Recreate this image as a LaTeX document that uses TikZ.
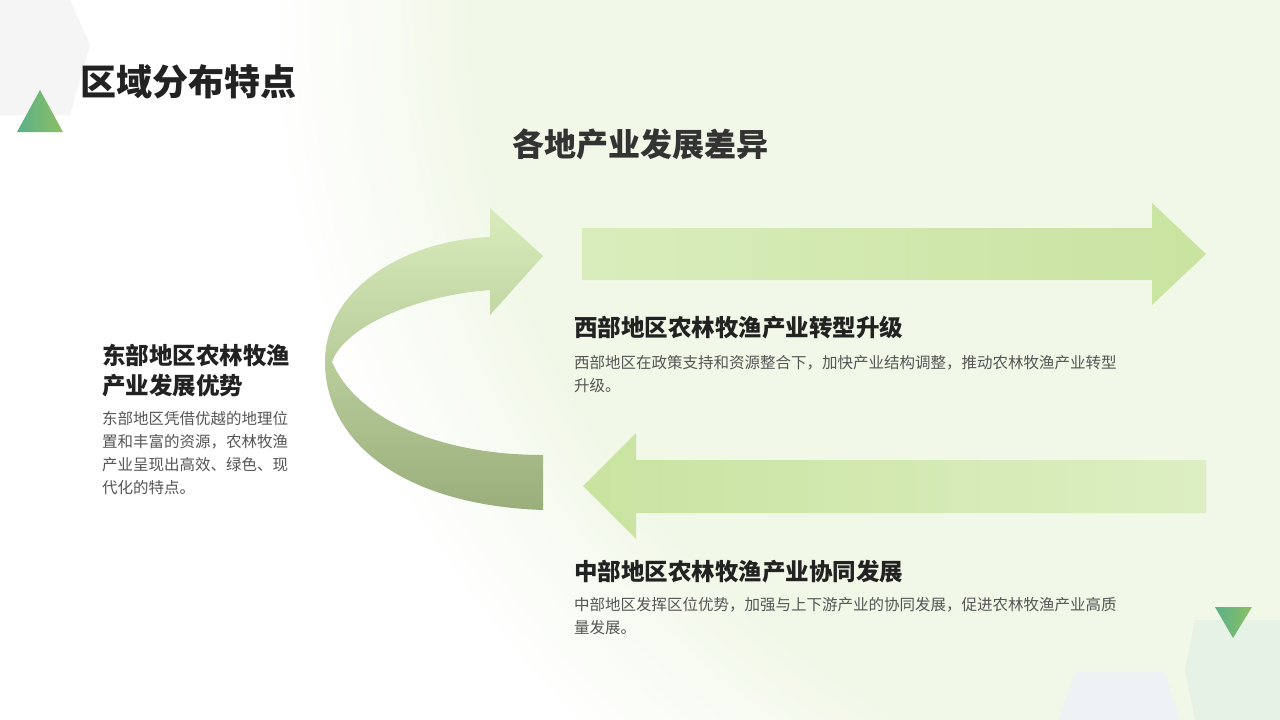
\documentclass[tikz,border=0pt]{standalone}
\usepackage{fontspec}
\setmainfont{Noto Sans CJK SC}
\usetikzlibrary{shapes.geometric,fadings}
\definecolor{gA}{HTML}{D9EDBC}
\definecolor{gB}{HTML}{C9E3A0}
\definecolor{dk}{HTML}{9AAE7C}
\definecolor{txt}{HTML}{222222}
\definecolor{body}{HTML}{555555}
\definecolor{triA}{HTML}{5BB08A}
\definecolor{triB}{HTML}{8CC063}
\definecolor{subc}{HTML}{333333}
\tikzset{
 head/.style={font=\bfseries\fontsize{23.5}{30}\selectfont, text=txt, anchor=north west, align=left, inner sep=0pt},
 bodytxt/.style={font=\fontsize{15.5}{23}\selectfont, text=body, anchor=north west, align=left, inner sep=0pt},
}
\begin{document}
\begin{tikzpicture}[x=1pt,y=-1pt]
\useasboundingbox (0,0) rectangle (1280,720);
\fill[white] (0,0) rectangle (1280,720);
\begin{scope}
\clip (0,0) rectangle (1280,720);
\fill[gB!45, path fading=circle with fuzzy edge 20 percent, opacity=0.8] (1280,0) circle (1000);
\fill[white, opacity=0.35] (0,0) rectangle (1280,720);
\end{scope}
% decorations
\fill[gray!8] (0,0) -- (70,0) -- (90,45) -- (70,115) -- (0,115) -- cycle;
\shade[left color=triA, right color=triB] (17,132) -- (63,132) -- (40,90) -- cycle;
\fill[green!30!gray!15] (1195,620) -- (1280,620) -- (1280,720) -- (1195,720) -- (1185,670) -- cycle;
\fill[cyan!30!gray!12] (1075,672) -- (1165,672) -- (1180,720) -- (1058,720) -- cycle;
\shade[left color=triA, right color=triB] (1215,607) -- (1252,607) -- (1233,638) -- cycle;
% titles
\node[anchor=west, inner sep=0pt, font=\bfseries\fontsize{36}{40}\selectfont, text=txt] (title) at (80,82) {区域分布特点};
\node[font=\bfseries\fontsize{32}{36}\selectfont, text=subc] (sub) at (640,144) {各地产业发展差异};
% curved arrow
\shade[top color=gA, bottom color=dk]
 (543,510) .. controls (400,505) and (325,440) .. (325,362)
 .. controls (325,285) and (410,240) .. (490,237)
 -- (490,208) -- (543,256) -- (490,315) -- (490,290)
 .. controls (420,295) and (345,325) .. (332,362)
 .. controls (360,425) and (450,455) .. (543,455) -- cycle;
% right arrow
\shade[left color=gA, right color=gB] (582,228) -- (1152,228) -- (1152,203) -- (1206,254) -- (1152,305) -- (1152,280) -- (582,280) -- cycle;
% left arrow
\shade[left color=gB, right color=gA!90] (1206,460) -- (636,460) -- (636,433) -- (583,486) -- (636,539) -- (636,513) -- (1206,513) -- cycle;
% texts
\node[head] (eh) at (102,344) {东部地区农林牧渔\\产业发展优势};
\node[bodytxt] (eb) at (102,411) {东部地区凭借优越的地理位\\置和丰富的资源，农林牧渔\\产业呈现出高效、绿色、现\\代化的特点。};
\node[head] (wh) at (574,316) {西部地区农林牧渔产业转型升级};
\node[bodytxt] (wb) at (574,355) {西部地区在政策支持和资源整合下，加快产业结构调整，推动农林牧渔产业转型\\升级。};
\node[head] (mh) at (574,560) {中部地区农林牧渔产业协同发展};
\node[bodytxt] (mb) at (574,597) {中部地区发挥区位优势，加强与上下游产业的协同发展，促进农林牧渔产业高质\\量发展。};
\end{tikzpicture}
\end{document}
